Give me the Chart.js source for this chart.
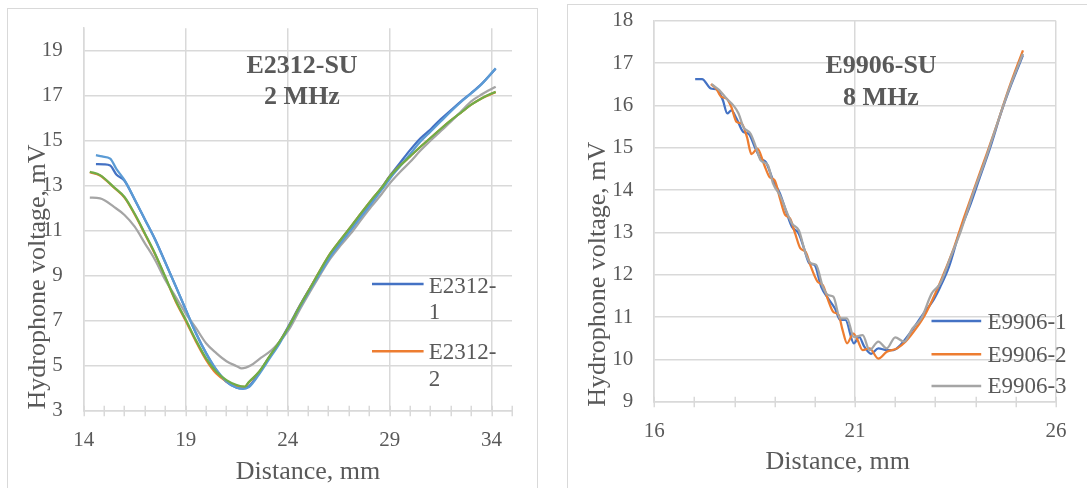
<!DOCTYPE html>
<html><head><meta charset="utf-8">
<script src="https://cdn.jsdelivr.net/npm/chart.js@4/dist/chart.umd.min.js"></script>
<style>
html,body{margin:0;padding:0;background:#fff;}
body{width:1087px;height:488px;position:relative;overflow:hidden;}
.frame{position:absolute;border:1px solid #d9d9d9;box-sizing:border-box;}
canvas{position:absolute;}
</style></head><body>
<div class="frame" style="left:7px;top:8px;width:531px;height:495px"></div>
<div class="frame" style="left:567px;top:4px;width:530px;height:500px"></div>
<canvas id="c1" width="545" height="488" style="left:0;top:0"></canvas>
<canvas id="c2" width="542" height="488" style="left:545px;top:0"></canvas>
<script>
// ---------- Left chart: E2312-SU 2 MHz ----------
const leftTitle = ['E2312-SU', '2 MHz'];
const leftXTicks = [14,15,16,17,18,19,20,21,22,23,24,25,26,27,28,29,30,31,32,33,34,35];
const leftXMajor = [14,19,24,29,34];
const leftYTicks = [3,5,7,9,11,13,15,17,19];
const leftLabels = ['E2312-1','E2312-2','E2312-3','E2312-4','E2312-5'];
const leftColors = ['#4472C4','#ED7D31','#A5A5A5','#5B9BD5','#70AD47'];

const e2312_1_x = [14.6,15.0,15.3,15.6,16.0,16.5,17.0,17.5,18.0,18.5,19.0,19.5,20.0,20.5,21.0,21.5,21.8,22.1,22.6,23.1,23.6,24.1,24.6,25.1,25.6,26.1,26.6,27.1,27.6,28.1,28.6,29.0,29.5,30.0,30.5,31.0,31.5,32.0,32.5,33.0,33.5,34.2];
const e2312_1_y = [13.96,13.95,13.9,13.5,13.22,12.38,11.5,10.62,9.6,8.56,7.5,6.45,5.55,4.8,4.28,4.02,3.98,4.08,4.68,5.38,6.05,6.85,7.68,8.45,9.2,9.92,10.55,11.12,11.72,12.3,12.9,13.42,14.0,14.58,15.1,15.5,15.95,16.35,16.75,17.12,17.52,18.2];

const e2312_2_x = [14.3,14.8,15.5,16.0,16.5,17.0,17.5,18.0,18.5,19.0,19.5,20.0,20.5,21.0,21.5,21.9,22.1,22.6,23.1,23.6,24.1,24.6,25.1,25.6,26.1,26.6,27.1,27.6,28.1,28.6,29.0,29.5,30.0,30.5,31.0,31.5,32.0,32.5,33.0,33.5,34.2];
const e2312_2_y = [13.6,13.45,12.9,12.47,11.72,10.85,9.95,8.92,7.88,7.0,6.08,5.26,4.65,4.3,4.1,4.06,4.26,4.72,5.38,6.05,6.8,7.65,8.45,9.25,10.0,10.6,11.18,11.78,12.36,12.9,13.4,13.88,14.3,14.72,15.12,15.52,15.9,16.25,16.6,16.88,17.16];

const e2312_3_x = [14.3,14.8,15.5,16.0,16.5,17.0,17.5,18.0,18.5,19.0,19.5,20.0,20.5,21.0,21.5,21.75,22.2,22.7,23.2,23.6,24.1,24.6,25.1,25.6,26.1,26.6,27.1,27.6,28.1,28.6,29.0,29.5,30.0,30.5,31.0,31.5,32.0,32.5,33.0,33.5,34.2];
const e2312_3_y = [12.47,12.44,12.05,11.7,11.18,10.44,9.7,8.81,8.07,7.33,6.68,6.0,5.56,5.2,4.98,4.88,5.02,5.36,5.68,6.07,6.66,7.5,8.29,9.05,9.77,10.35,10.88,11.48,12.07,12.62,13.1,13.6,14.05,14.55,15.0,15.42,15.85,16.3,16.75,17.05,17.4];

const e2312_4_x = [14.6,14.9,15.3,15.6,16.0,16.5,17.0,17.5,18.0,18.5,19.0,19.5,20.0,20.5,21.0,21.5,21.8,22.1,22.6,23.1,23.6,24.1,24.6,25.1,25.6,26.1,26.6,27.1,27.6,28.1,28.6,29.0,29.5,30.0,30.5,31.0,31.5,32.0,32.5,33.0,33.5,34.2];
const e2312_4_y = [14.36,14.3,14.2,13.75,13.25,12.4,11.5,10.6,9.58,8.55,7.5,6.45,5.57,4.83,4.3,4.02,3.98,4.05,4.62,5.3,5.98,6.78,7.6,8.38,9.12,9.85,10.45,11.03,11.62,12.2,12.8,13.3,13.85,14.4,14.95,15.4,15.85,16.3,16.72,17.1,17.5,18.22];

const e2312_5_x = [14.3,14.8,15.5,16.0,16.5,17.0,17.5,18.0,18.5,19.0,19.5,20.0,20.5,21.0,21.5,21.9,22.1,22.6,23.1,23.6,24.1,24.6,25.1,25.6,26.1,26.6,27.1,27.6,28.1,28.6,29.0,29.5,30.0,30.5,31.0,31.5,32.0,32.5,33.0,33.5,34.2];
const e2312_5_y = [13.62,13.47,12.92,12.5,11.75,10.88,9.98,8.95,7.92,7.05,6.14,5.33,4.73,4.36,4.14,4.07,4.28,4.73,5.4,6.07,6.8,7.65,8.44,9.25,10.0,10.6,11.18,11.78,12.36,12.9,13.4,13.88,14.3,14.72,15.12,15.52,15.9,16.25,16.6,16.88,17.18];

// ---------- Right chart: E9906-SU 8 MHz ----------
const rightTitle = ['E9906-SU', '8 MHz'];
const rightXTicks = [16,17,18,19,20,21,22,23,24,25,26];
const rightXMajor = [16,21,26];
const rightYTicks = [9,10,11,12,13,14,15,16,17,18];
const rightLabels = ['E9906-1','E9906-2','E9906-3'];
const rightColors = ['#4472C4','#ED7D31','#A5A5A5'];

const e9906_1_x = [17.02,17.19,17.41,17.58,17.71,17.82,17.92,18.05,18.22,18.35,18.52,18.65,18.78,18.96,19.13,19.30,19.43,19.60,19.73,19.86,19.99,20.16,20.33,20.50,20.63,20.76,20.97,21.10,21.23,21.40,21.58,21.79,21.96,22.13,22.39,22.65,22.95,23.12,23.34,23.59,23.85,24.11,24.37,24.63,24.88,25.18];
const e9906_1_y = [16.62,16.62,16.40,16.36,16.12,15.81,15.88,15.69,15.37,15.33,14.98,14.74,14.66,14.23,13.92,13.45,13.13,12.97,12.62,12.27,12.23,11.71,11.44,11.20,10.93,10.93,10.38,10.53,10.30,10.13,10.26,10.22,10.22,10.34,10.65,11.01,11.40,11.71,12.19,12.97,13.60,14.31,15.02,15.81,16.47,17.18];

const e9906_2_x = [17.41,17.54,17.67,17.80,17.92,18.05,18.18,18.31,18.42,18.57,18.74,18.87,19.00,19.13,19.26,19.38,19.51,19.64,19.77,19.90,20.07,20.20,20.33,20.46,20.59,20.69,20.80,20.96,21.06,21.19,21.36,21.58,21.79,22.05,22.26,22.52,22.74,23.00,23.21,23.47,23.72,23.98,24.28,24.54,24.84,25.18];
const e9906_2_y = [16.50,16.40,16.20,16.16,15.96,15.61,15.57,15.25,14.85,14.98,14.59,14.31,14.23,13.80,13.41,13.33,12.97,12.62,12.54,12.19,11.83,11.75,11.40,11.12,11.05,10.69,10.38,10.61,10.46,10.22,10.26,10.02,10.18,10.26,10.42,10.73,11.05,11.56,12.03,12.66,13.37,14.07,14.86,15.57,16.43,17.30];

const e9906_3_x = [17.43,17.62,17.80,17.97,18.10,18.22,18.40,18.53,18.65,18.83,18.96,19.13,19.30,19.43,19.60,19.77,19.90,20.03,20.20,20.33,20.46,20.63,20.80,20.97,21.19,21.36,21.58,21.79,22.00,22.22,22.43,22.65,22.91,23.12,23.38,23.64,23.94,24.24,24.54,24.84,25.18];
const e9906_3_y = [16.50,16.36,16.16,16.00,15.81,15.49,15.33,15.02,14.70,14.59,14.15,13.88,13.48,13.21,13.05,12.50,12.27,12.23,11.71,11.52,11.48,10.97,10.97,10.53,10.57,10.22,10.42,10.26,10.52,10.42,10.73,10.97,11.56,11.79,12.42,13.05,13.92,14.70,15.57,16.40,17.22];

const leftX = [e2312_1_x, e2312_2_x, e2312_3_x, e2312_4_x, e2312_5_x];
const leftY = [e2312_1_y, e2312_2_y, e2312_3_y, e2312_4_y, e2312_5_y];
const rightX = [e9906_1_x, e9906_2_x, e9906_3_x];
const rightY = [e9906_1_y, e9906_2_y, e9906_3_y];

const TXT = '#595959';
const GRID = '#d9d9d9';
const SERIF = '"Liberation Serif","Times New Roman",serif';

const decor = {
  id: 'decor',
  afterDraw(chart, args, o) {
    const ctx = chart.ctx;
    const xs = chart.scales.x;
    const yb = chart.chartArea.bottom;
    ctx.save();
    ctx.strokeStyle = GRID; ctx.lineWidth = 1.5;
    xs.ticks.forEach(t => {
      const px = Math.round(xs.getPixelForValue(t.value)) + 0.25;
      ctx.beginPath(); ctx.moveTo(px, yb - 5); ctx.lineTo(px, yb + 5.5); ctx.stroke();
    });
    ctx.fillStyle = TXT;
    ctx.textAlign = 'center'; ctx.textBaseline = 'middle';
    ctx.font = 'bold 26px ' + SERIF;
    o.title.forEach((s, i) => ctx.fillText(s, o.titleX, o.titleY[i]));
    ctx.font = '26px ' + SERIF;
    ctx.fillText('Distance, mm', o.xTitleX, o.xTitleY);
    ctx.save();
    ctx.translate(o.yTitleX, o.yTitleY); ctx.rotate(-Math.PI / 2);
    ctx.fillText('Hydrophone voltage, mV', 0, 0);
    ctx.restore();
    ctx.font = '23px ' + SERIF;
    ctx.textAlign = 'left';
    o.legend.forEach(item => {
      const ds = chart.data.datasets[item.index];
      ctx.strokeStyle = ds.borderColor; ctx.lineWidth = 2.5;
      ctx.beginPath(); ctx.moveTo(o.legX0, item.lineY); ctx.lineTo(o.legX1, item.lineY); ctx.stroke();
      const label = ds.label;
      const parts = o.wrap ? [label.slice(0, label.indexOf('-') + 1), label.slice(label.indexOf('-') + 1)] : [label];
      parts.forEach((p, i) => ctx.fillText(p, o.legTextX, item.textY[i]));
    });
    ctx.restore();
  }
};

function makeChart(id, xs, ys, labels, colors, xTicks, xMajor, yTicks, xMin, xMax, yMin, yMax, lay, deco) {
  const n = labels.length;
  const datasets = labels.map((lab, i) => ({
    label: lab,
    data: xs[i].map((x, j) => ({x: x, y: ys[i][j]})),
    borderColor: colors[i],
    backgroundColor: colors[i],
    borderWidth: 2.25,
    pointRadius: 0,
    showLine: true,
    fill: false,
    cubicInterpolationMode: 'monotone',
    order: n - i
  }));
  return new Chart(document.getElementById(id), {
    type: 'scatter',
    data: {datasets},
    plugins: [decor],
    options: {
      responsive: false, animation: false, devicePixelRatio: 1,
      layout: {autoPadding: false, padding: {left: 0, top: lay.top, right: lay.right, bottom: 0}},
      plugins: {legend: {display: false}, tooltip: {enabled: false}, decor: deco},
      scales: {
        x: {
          type: 'linear', min: xMin, max: xMax,
          afterBuildTicks: s => { s.ticks = xTicks.map(v => ({value: v})); },
          afterFit: s => { s.height = lay.xH; s.paddingLeft = 0; s.paddingRight = 0; s.paddingTop = 0; s.paddingBottom = 0; },
          grid: {color: c => (c.tick && xMajor.includes(c.tick.value)) ? GRID : 'rgba(0,0,0,0)', lineWidth: 1.5, drawTicks: false},
          border: {display: true, color: GRID, width: 1.5},
          ticks: {autoSkip: false, maxRotation: 0, padding: lay.xPad, color: TXT, font: {family: SERIF, size: 21},
                  callback: v => xMajor.includes(v) ? String(v) : ''}
        },
        y: {
          type: 'linear', min: yMin, max: yMax,
          afterBuildTicks: s => { s.ticks = yTicks.map(v => ({value: v})); },
          afterFit: s => { s.width = lay.yW; s.paddingTop = 0; s.paddingBottom = 0; s.paddingLeft = 0; s.paddingRight = 0; },
          grid: {color: GRID, lineWidth: 1.5, drawTicks: false},
          border: {display: true, color: GRID, width: 1.5},
          ticks: {padding: lay.yPad, color: TXT, font: {family: SERIF, size: 21}, callback: v => String(v)}
        }
      }
    }
  });
}

makeChart('c1', leftX, leftY, leftLabels, leftColors, leftXTicks, leftXMajor, leftYTicks, 14, 35, 3, 20,
  {top: 28.2, right: 33, xH: 77.3, yW: 83.7, xPad: 16.7, yPad: 21},
  {title: leftTitle, titleX: 302, titleY: [66.7, 97.7], xTitleX: 308, xTitleY: 471.7, yTitleX: 38, yTitleY: 277,
   wrap: true, legX0: 372, legX1: 423.6, legTextX: 428.7,
   legend: [{index: 0, lineY: 284, textY: [287, 313]}, {index: 1, lineY: 351.3, textY: [352.7, 380]}]});

makeChart('c2', rightX, rightY, rightLabels, rightColors, rightXTicks, rightXMajor, rightYTicks, 16, 26, 9, 18,
  {top: 20.7, right: 31.1, xH: 86.3, yW: 109.2, xPad: 16.7, yPad: 21},
  {title: rightTitle, titleX: 336, titleY: [66.7, 98.7], xTitleX: 292.8, xTitleY: 461.7, yTitleX: 53.6, yTitleY: 274.2,
   wrap: false, legX0: 386.5, legX1: 436.2, legTextX: 442.4,
   legend: [{index: 0, lineY: 321, textY: [322.7]}, {index: 1, lineY: 354.3, textY: [356]}, {index: 2, lineY: 386, textY: [386.7]}]});
</script>
</body></html>
